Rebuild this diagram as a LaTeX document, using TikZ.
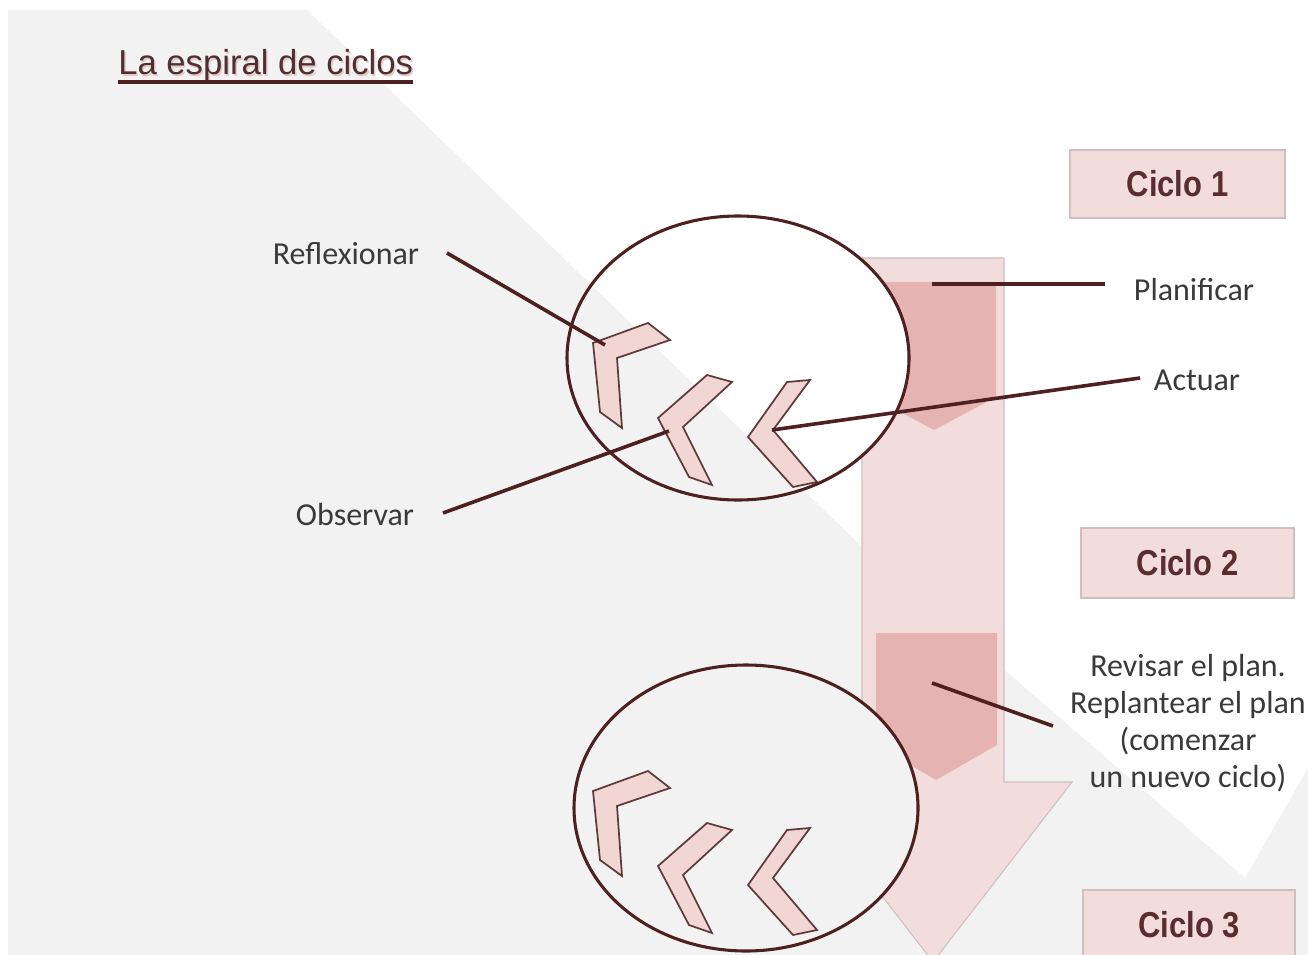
\documentclass[tikz,border=0pt]{standalone}
\usepackage{fontspec}
\setmainfont{Carlito}
\newfontfamily\arialf{Liberation Sans}
\newfontfamily\arialcond[FakeStretch=0.86]{Liberation Sans}
\usetikzlibrary{calc}
\definecolor{bggray}{HTML}{F2F2F2}
\definecolor{barfill}{HTML}{F2DCDC}
\definecolor{barline}{HTML}{CFC0C0}
\definecolor{darkchev}{HTML}{E6B3B3}
\definecolor{chevfill}{HTML}{F2D6D4}
\definecolor{chevline}{HTML}{5E3A3A}
\definecolor{maroon}{HTML}{4E2020}
\definecolor{labelcol}{HTML}{3A3A3A}
\definecolor{ciclocol}{HTML}{5A2E2E}
\definecolor{titlecol}{HTML}{4D3030}
\definecolor{shadowcol}{HTML}{E8C8C8}
\tikzset{
  lbl/.style={font=\fontsize{24}{28}\selectfont, text=labelcol, inner sep=0pt},
  conn/.style={draw=maroon, line width=2.7pt},
  ring/.style={draw=maroon, line width=2.3pt},
  smallchev/.style={fill=chevfill, draw=chevline, line width=1.3pt, line join=miter},
  bigchev/.style={fill=darkchev},
  ciclobox/.style={fill=barfill, draw=barline, line width=0.8pt, inner sep=0pt,
    font=\arialcond\bfseries\fontsize{27}{30}\selectfont, text=ciclocol},
}
\begin{document}
\begin{tikzpicture}[x=0.75pt,y=-0.75pt]
\useasboundingbox (0,0) rectangle (1308,955);
\clip (0,0) rectangle (1308,955);
% background
\fill[white] (0,0) rectangle (1308,955);
\fill[bggray] (8,10) -- (307,10) -- (860,545) -- (1245,878) -- (1308,768) -- (1308,955) -- (8,955) -- cycle;
% big down arrow (bar)
\draw[fill=barfill, draw=barline, line width=0.8pt]
  (862,258) -- (1004,258) -- (1004,782) -- (1072,782) -- (933,962) -- (794,782) -- (862,782) -- cycle;
% dark chevrons in bar
\fill[bigchev] (872,282) -- (996,282) -- (996,397) -- (934,430) -- (872,397) -- cycle;
\fill[bigchev] (876,633) -- (997,633) -- (997,745) -- (936,780) -- (876,745) -- cycle;
% circle fills (background seen through)
\fill[white] (738,358) ellipse [x radius=171, y radius=142];
\begin{scope}
  \clip (738,358) ellipse [x radius=171, y radius=142];
  \fill[bggray] (8,10) -- (307,10) -- (860,545) -- (1245,878) -- (1308,768) -- (1308,955) -- (8,955) -- cycle;
\end{scope}
\fill[white] (746,808) ellipse [x radius=172, y radius=143];
\begin{scope}
  \clip (746,808) ellipse [x radius=172, y radius=143];
  \fill[bggray] (8,10) -- (307,10) -- (860,545) -- (1245,878) -- (1308,768) -- (1308,955) -- (8,955) -- cycle;
\end{scope}
% small chevrons, cycle 1
\draw[smallchev] (593,343) -- (648,323) -- (670,340) -- (617,358) -- (622,428) -- (600,412) -- cycle;
\draw[smallchev] (658,418) -- (707,375) -- (732,382) -- (683,427) -- (712,485) -- (689,477) -- cycle;
\draw[smallchev] (748,437) -- (787,382) -- (810,380) -- (773,430) -- (817,482) -- (793,487) -- cycle;
% small chevrons, cycle 2
\begin{scope}[yshift=-448*0.75pt]
\draw[smallchev] (593,343) -- (648,323) -- (670,340) -- (617,358) -- (622,428) -- (600,412) -- cycle;
\draw[smallchev] (658,418) -- (707,375) -- (732,382) -- (683,427) -- (712,485) -- (689,477) -- cycle;
\draw[smallchev] (748,437) -- (787,382) -- (810,380) -- (773,430) -- (817,482) -- (793,487) -- cycle;
\end{scope}
% circles
\draw[ring] (738,358) ellipse [x radius=171, y radius=142];
\draw[ring] (746,808) ellipse [x radius=172, y radius=143];
% title
\node[anchor=base west, inner sep=0pt, text=shadowcol, font=\arialf\fontsize{26}{30}\selectfont] (titleshadow) at (119.5,76.5) {La espiral de ciclos};
\node[anchor=base west, inner sep=0pt, text=titlecol, font=\arialf\fontsize{26}{30}\selectfont] (title) at (118,75) {La espiral de ciclos};
\draw[draw=maroon, line width=2.6pt] ($(title.base west)+(0,7)$) -- ($(title.base east)+(0,7)$);
% labels
\node[lbl] (refl) at (346,254) {Reflexionar};
\node[lbl] (obs) at (355,515) {Observar};
\node[lbl] (plan) at (1194,290) {Planificar};
\node[lbl] (act) at (1197,380) {Actuar};
\node[lbl, align=center, font=\fontsize{24}{27.75}\selectfont] (rev) at (1188,723)
  {Revisar el plan.\\Replantear el plan\\(comenzar\\un nuevo ciclo)};
% connector end points
\coordinate (reflS) at (447,253);
\coordinate (reflE) at (605,345);
\coordinate (obsS) at (443,513);
\coordinate (obsE) at (669,431);
\coordinate (planS) at (1105,284);
\coordinate (planE) at (932,284);
\coordinate (actS) at (1140,378);
\coordinate (actE) at (772,430);
\coordinate (revS) at (1053,726);
\coordinate (revE) at (932,683);
\draw[conn] (reflS) -- (reflE);
\draw[conn] (obsS) -- (obsE);
\draw[conn] (planS) -- (planE);
\draw[conn] (actS) -- (actE);
\draw[conn] (revS) -- (revE);
% cycle boxes
\node[ciclobox, minimum width=161.25pt, minimum height=51pt] (c1) at (1177.5,184) {Ciclo 1};
\node[ciclobox, minimum width=159.75pt, minimum height=52.5pt] (c2) at (1187.5,563) {Ciclo 2};
\node[ciclobox, minimum width=159pt, minimum height=52.5pt] (c3) at (1189,925) {Ciclo 3};
\end{tikzpicture}
\end{document}
